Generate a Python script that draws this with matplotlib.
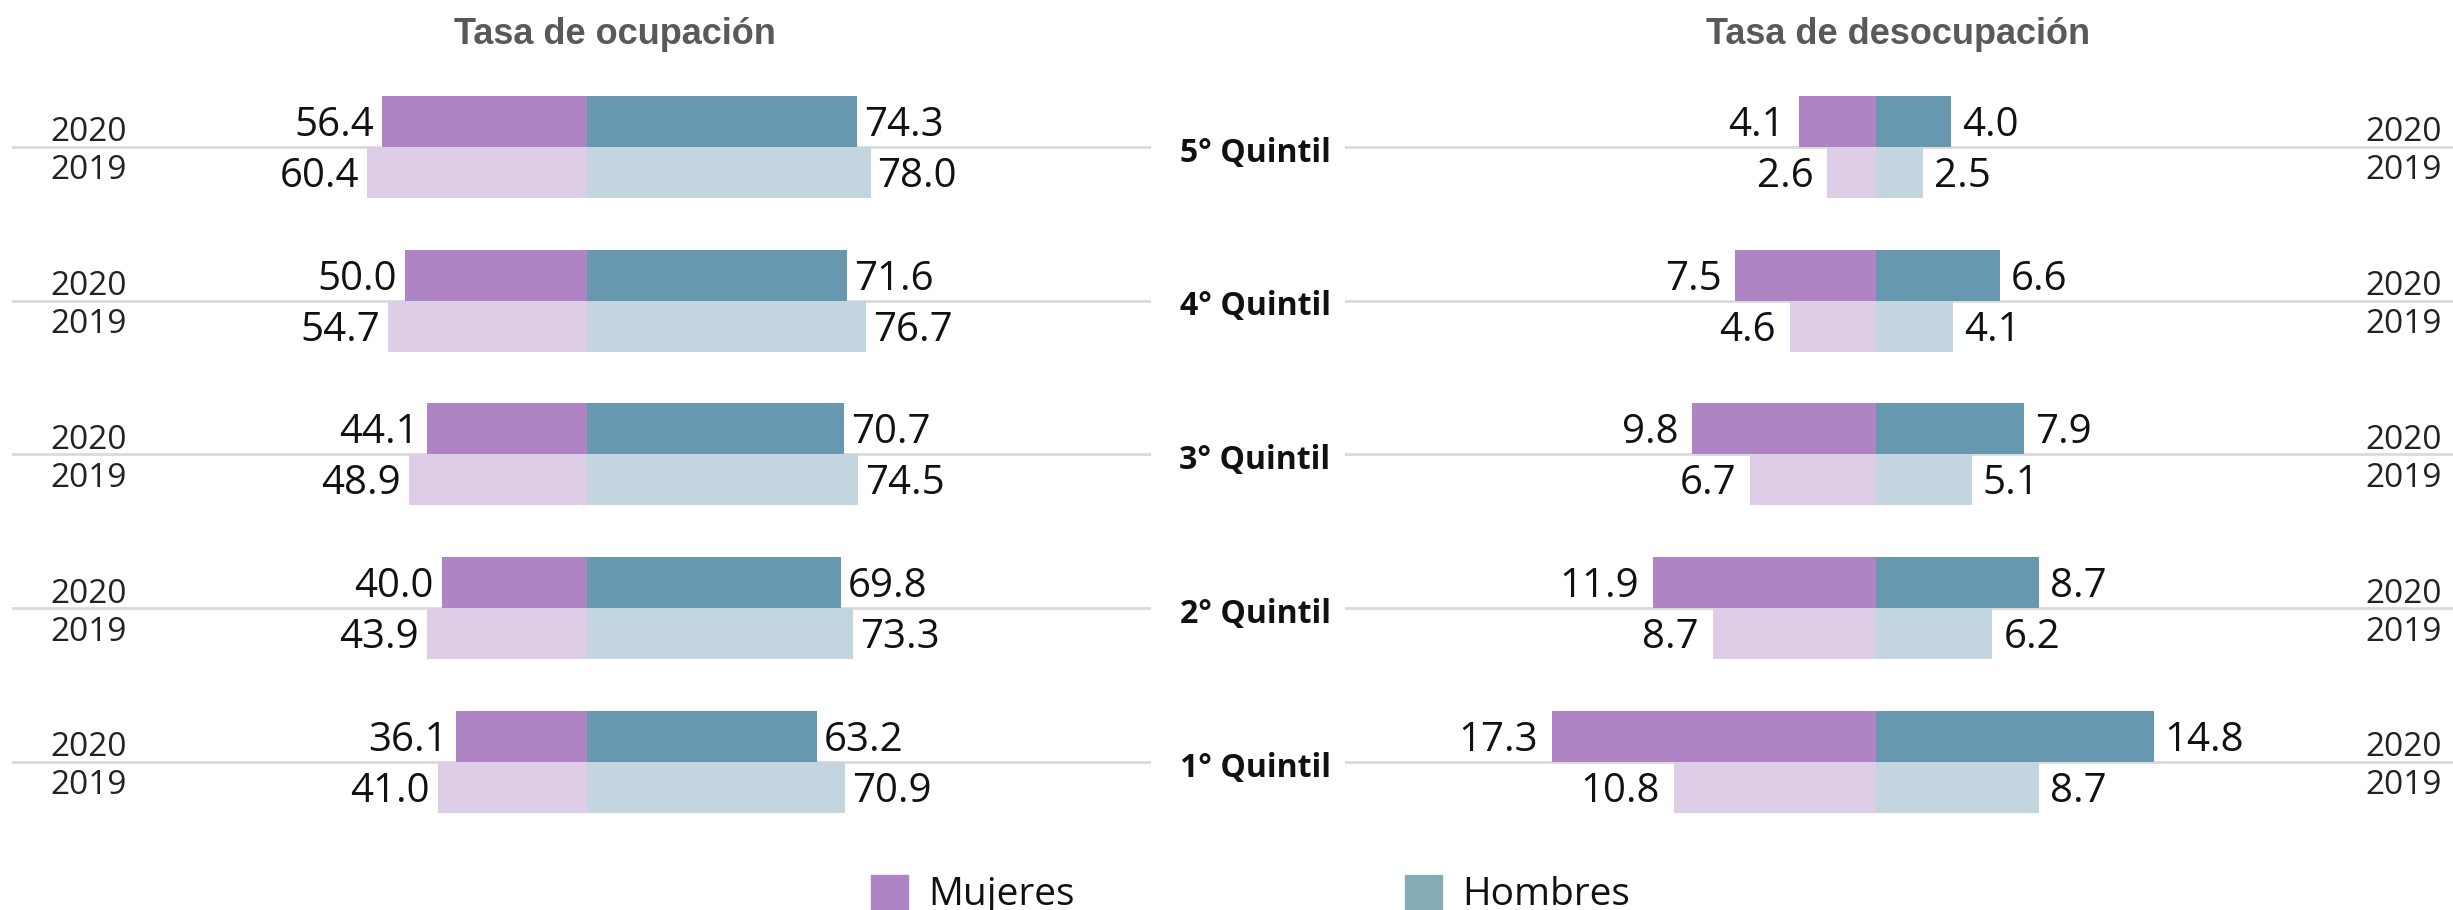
import numpy as np
import matplotlib.pyplot as plt
from matplotlib.patches import Rectangle

quintiles = ['5° Quintil', '4° Quintil', '3° Quintil', '2° Quintil', '1° Quintil']
years = ['2020', '2019']

ocup_muj_2020 = [56.4, 50.0, 44.1, 40.0, 36.1]
ocup_muj_2019 = [60.4, 54.7, 48.9, 43.9, 41.0]
ocup_hom_2020 = [74.3, 71.6, 70.7, 69.8, 63.2]
ocup_hom_2019 = [78.0, 76.7, 74.5, 73.3, 70.9]

desoc_muj_2020 = [4.1, 7.5, 9.8, 11.9, 17.3]
desoc_muj_2019 = [2.6, 4.6, 6.7, 8.7, 10.8]
desoc_hom_2020 = [4.0, 6.6, 7.9, 8.7, 14.8]
desoc_hom_2019 = [2.5, 4.1, 5.1, 6.2, 8.7]

c_muj20, c_muj19 = '#ae84c4', '#ddcde6'
c_hom20, c_hom19 = '#6897b0', '#c3d6df'
c_hom_leg = '#85abb5'

W, H = 2453, 910
fig = plt.figure(figsize=(W / 100, H / 100), dpi=100)
fnt = 'Open Sans'

# axes in pixel geometry
y_top, y_bot = 60, 860
base0, step = 147, 153.75
ylim = ((y_bot - base0) / step, (y_top - base0) / step)
h = 51 / step


def make_ax(x0, x1, center, ppu):
    ax = fig.add_axes([x0 / W, 1 - y_bot / H, (x1 - x0) / W, (y_bot - y_top) / H])
    ax.set_xlim((x0 - center) / ppu, (x1 - center) / ppu)
    ax.set_ylim(*ylim)
    ax.axis('off')
    return ax


def draw_panel(ax, m20, m19, h20, h19, pad_l, pad_r):
    y = np.arange(len(quintiles))
    ax.barh(y - h / 2, [-v for v in m20], height=h, color=c_muj20, zorder=2)
    ax.barh(y + h / 2, [-v for v in m19], height=h, color=c_muj19, zorder=2)
    ax.barh(y - h / 2, h20, height=h, color=c_hom20, zorder=2)
    ax.barh(y + h / 2, h19, height=h, color=c_hom19, zorder=2)
    for yy in y:
        ax.axhline(yy, color='#dadada', lw=2, zorder=1)
    for vals, off in [(m20, -h / 2), (m19, h / 2)]:
        for i, v in enumerate(vals):
            ax.annotate(f'{v:.1f}', (-v, i + off), xytext=(-pad_l, -3),
                        textcoords='offset points', ha='right', va='center',
                        fontsize=29, family=fnt, color='#111111')
    for vals, off in [(h20, -h / 2), (h19, h / 2)]:
        for i, v in enumerate(vals):
            ax.annotate(f'{v:.1f}', (v, i + off), xytext=(pad_r, -3),
                        textcoords='offset points', ha='left', va='center',
                        fontsize=29, family=fnt, color='#111111')


axL = make_ax(12, 1151, 587, 3.635)
draw_panel(axL, ocup_muj_2020, ocup_muj_2019, ocup_hom_2020, ocup_hom_2019, 6, 5)
axR = make_ax(1345, 2453, 1876, 18.75)
draw_panel(axR, desoc_muj_2020, desoc_muj_2019, desoc_hom_2020, desoc_hom_2019, 10, 8)

# year labels and quintile names
dy = 19 / step
sh = 5 / step
for i, q in enumerate(quintiles):
    for yr, sgn in zip(years, (-1, 1)):
        axL.text((89 - 587) / 3.635, i + sgn * dy + sh, yr, ha='center', va='center',
                 fontsize=24, family=fnt, color='#222222', clip_on=False)
        axR.text((2442 - 1876) / 18.75, i + sgn * dy + sh, yr, ha='right', va='center',
                 fontsize=24, family=fnt, color='#222222', clip_on=False)
    axR.text((1255 - 1876) / 18.75, i + 0.04, q, ha='center', va='center',
             fontsize=23, family=fnt, fontweight='bold', color='#111111', clip_on=False)

fig.text(615 / W, 1 - 35 / H, 'Tasa de ocupación', ha='center', va='center',
         fontsize=26, family='Liberation Sans', fontweight='bold', color='#595959')
fig.text(1898 / W, 1 - 35 / H, 'Tasa de desocupación', ha='center', va='center',
         fontsize=26, family='Liberation Sans', fontweight='bold', color='#595959')

# legend
for x0, col, lab in [(871, c_muj20, 'Mujeres'), (1405, c_hom_leg, 'Hombres')]:
    fig.patches.append(Rectangle((x0 / W, 0), 37 / W, 35 / H, color=col,
                                 transform=fig.transFigure, figure=fig))
    fig.text((x0 + 57) / W, 1 - 895 / H, lab, ha='left', va='center',
             fontsize=28, family=fnt, color='#111111')

fig.savefig('out.png', dpi=100)
